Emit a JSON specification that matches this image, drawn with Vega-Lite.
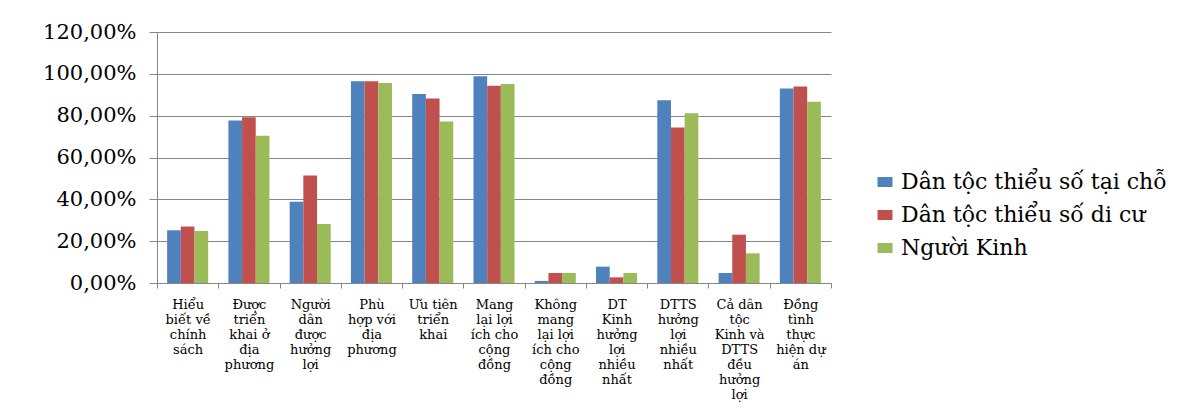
{
  "$schema": "https://vega.github.io/schema/vega-lite/v6.json",
  "width": 674,
  "height": 251,
  "autosize": {"type": "none"},
  "padding": {"left": 157, "top": 32, "right": 356, "bottom": 131},
  "background": "white",
  "data": {
    "values": [
      {"item": "Hiểu|biết về|chính|sách", "group": "Dân tộc thiểu số tại chỗ", "value": 25.2},
      {"item": "Hiểu|biết về|chính|sách", "group": "Dân tộc thiểu số di cư", "value": 27.0},
      {"item": "Hiểu|biết về|chính|sách", "group": "Người Kinh", "value": 24.9},
      {"item": "Được|triển|khai ở|địa|phương", "group": "Dân tộc thiểu số tại chỗ", "value": 77.7},
      {"item": "Được|triển|khai ở|địa|phương", "group": "Dân tộc thiểu số di cư", "value": 79.3},
      {"item": "Được|triển|khai ở|địa|phương", "group": "Người Kinh", "value": 70.4},
      {"item": "Người|dân|được|hưởng|lợi", "group": "Dân tộc thiểu số tại chỗ", "value": 38.9},
      {"item": "Người|dân|được|hưởng|lợi", "group": "Dân tộc thiểu số di cư", "value": 51.4},
      {"item": "Người|dân|được|hưởng|lợi", "group": "Người Kinh", "value": 28.2},
      {"item": "Phù|hợp với|địa|phương", "group": "Dân tộc thiểu số tại chỗ", "value": 96.4},
      {"item": "Phù|hợp với|địa|phương", "group": "Dân tộc thiểu số di cư", "value": 96.4},
      {"item": "Phù|hợp với|địa|phương", "group": "Người Kinh", "value": 95.6},
      {"item": "Ưu tiên|triển|khai", "group": "Dân tộc thiểu số tại chỗ", "value": 90.3},
      {"item": "Ưu tiên|triển|khai", "group": "Dân tộc thiểu số di cư", "value": 88.2},
      {"item": "Ưu tiên|triển|khai", "group": "Người Kinh", "value": 77.2},
      {"item": "Mang|lại lợi|ích cho|cộng|đồng", "group": "Dân tộc thiểu số tại chỗ", "value": 98.9},
      {"item": "Mang|lại lợi|ích cho|cộng|đồng", "group": "Dân tộc thiểu số di cư", "value": 94.3},
      {"item": "Mang|lại lợi|ích cho|cộng|đồng", "group": "Người Kinh", "value": 95.1},
      {"item": "Không|mang|lại lợi|ích cho|cộng|đồng", "group": "Dân tộc thiểu số tại chỗ", "value": 1.0},
      {"item": "Không|mang|lại lợi|ích cho|cộng|đồng", "group": "Dân tộc thiểu số di cư", "value": 4.8},
      {"item": "Không|mang|lại lợi|ích cho|cộng|đồng", "group": "Người Kinh", "value": 4.8},
      {"item": "DT|Kinh|hưởng|lợi|nhiều|nhất", "group": "Dân tộc thiểu số tại chỗ", "value": 7.8},
      {"item": "DT|Kinh|hưởng|lợi|nhiều|nhất", "group": "Dân tộc thiểu số di cư", "value": 2.7},
      {"item": "DT|Kinh|hưởng|lợi|nhiều|nhất", "group": "Người Kinh", "value": 4.8},
      {"item": "DTTS|hưởng|lợi|nhiều|nhất", "group": "Dân tộc thiểu số tại chỗ", "value": 87.4},
      {"item": "DTTS|hưởng|lợi|nhiều|nhất", "group": "Dân tộc thiểu số di cư", "value": 74.4},
      {"item": "DTTS|hưởng|lợi|nhiều|nhất", "group": "Người Kinh", "value": 81.1},
      {"item": "Cả dân|tộc|Kinh và|DTTS|đều|hưởng|lợi", "group": "Dân tộc thiểu số tại chỗ", "value": 4.8},
      {"item": "Cả dân|tộc|Kinh và|DTTS|đều|hưởng|lợi", "group": "Dân tộc thiểu số di cư", "value": 23.1},
      {"item": "Cả dân|tộc|Kinh và|DTTS|đều|hưởng|lợi", "group": "Người Kinh", "value": 14.2},
      {"item": "Đồng|tình|thực|hiện dự|án", "group": "Dân tộc thiểu số tại chỗ", "value": 93.0},
      {"item": "Đồng|tình|thực|hiện dự|án", "group": "Dân tộc thiểu số di cư", "value": 94.0},
      {"item": "Đồng|tình|thực|hiện dự|án", "group": "Người Kinh", "value": 86.6}
    ]
  },
  "mark": {"type": "bar"},
  "encoding": {
    "x": {
      "field": "item",
      "type": "nominal",
      "sort": null,
      "scale": {"paddingInner": 0, "paddingOuter": 0},
      "axis": {
        "title": null,
        "labelAngle": 0,
        "tickBand": "extent",
        "tickSize": 5,
        "tickColor": "#868686",
        "domainColor": "#868686",
        "labelFont": "DejaVu Serif",
        "labelFontSize": 13,
        "labelLineHeight": 15,
        "labelExpr": "split(datum.label, '|')",
        "labelPadding": 10,
        "labelColor": "#000000",
        "grid": false,
        "labelLimit": 200
      }
    },
    "xOffset": {
      "field": "group",
      "type": "nominal",
      "sort": ["Dân tộc thiểu số tại chỗ", "Dân tộc thiểu số di cư", "Người Kinh"],
      "scale": {"paddingInner": 0, "paddingOuter": 0.74}
    },
    "y": {
      "field": "value",
      "type": "quantitative",
      "scale": {"domain": [0, 120]},
      "axis": {
        "title": null,
        "values": [0, 20, 40, 60, 80, 100, 120],
        "grid": true,
        "gridColor": "#868686",
        "domainColor": "#868686",
        "tickColor": "#868686",
        "tickSize": 8,
        "labelFont": "DejaVu Serif",
        "labelFontSize": 21,
        "labelPadding": 13,
        "labelColor": "#000000",
        "labelExpr": "replace(format(datum.value, '.2f'), '.', ',') + '%'"
      }
    },
    "color": {
      "field": "group",
      "type": "nominal",
      "sort": ["Dân tộc thiểu số tại chỗ", "Dân tộc thiểu số di cư", "Người Kinh"],
      "scale": {
        "domain": ["Dân tộc thiểu số tại chỗ", "Dân tộc thiểu số di cư", "Người Kinh"],
        "range": ["#4F81BD", "#C0504D", "#9BBB59"]
      },
      "legend": {
        "title": null,
        "orient": "none",
        "legendX": 717,
        "legendY": 139,
        "symbolType": "M-1,-0.667H1V0.667H-1Z",
        "symbolSize": 225,
        "symbolStrokeWidth": 0,
        "labelFont": "DejaVu Serif",
        "labelFontSize": 22,
        "labelOffset": 5,
        "rowPadding": 11,
        "padding": 0,
        "labelColor": "#000000",
        "labelLimit": 400
      }
    }
  },
  "config": {"view": {"stroke": null}}
}
